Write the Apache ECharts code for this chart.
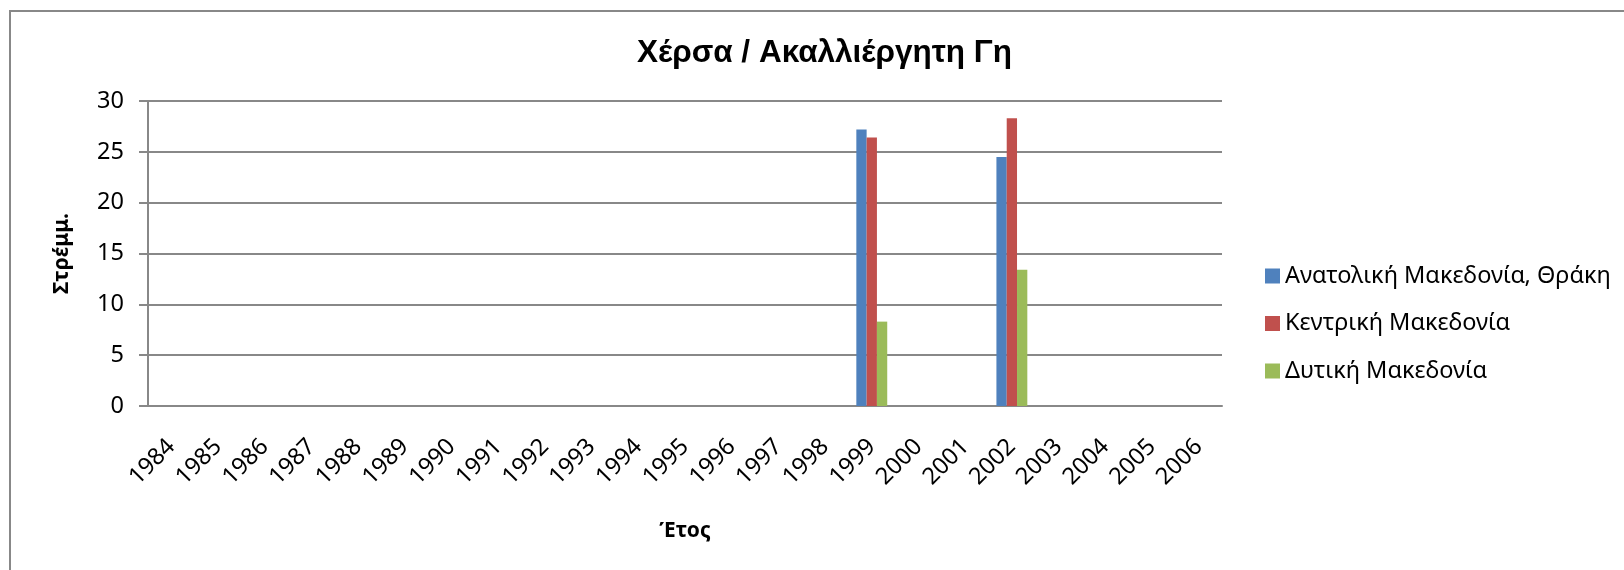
<!DOCTYPE html>
<html>
<head>
<meta charset="utf-8">
<title>Χέρσα / Ακαλλιέργητη Γη</title>
<script src="https://cdn.jsdelivr.net/npm/echarts@6/dist/echarts.min.js"></script>
<style>
	html, body { margin: 0; padding: 0; background: #fff; }
	#chart { width: 1624px; height: 570px; }
</style>
</head>
<body>
<div id="chart"></div>
<script>
	// data
	let years = ['1984', '1985', '1986', '1987', '1988', '1989', '1990', '1991', '1992', '1993', '1994', '1995',
		'1996', '1997', '1998', '1999', '2000', '2001', '2002', '2003', '2004', '2005', '2006']
	let seriesNames = ['Ανατολική Μακεδονία, Θράκη', 'Κεντρική Μακεδονία', 'Δυτική Μακεδονία']
	let anatoliki = [null, null, null, null, null, null, null, null, null, null, null, null,
		null, null, null, 27.2, null, null, 24.5, null, null, null, null]
	let kentriki = [null, null, null, null, null, null, null, null, null, null, null, null,
		null, null, null, 26.4, null, null, 28.3, null, null, null, null]
	let dytiki = [null, null, null, null, null, null, null, null, null, null, null, null,
		null, null, null, 8.3, null, null, 13.4, null, null, null, null]
	let colors = ['#4F81BD', '#C0504D', '#9BBB59']

	let font = "'Noto Sans', 'DejaVu Sans', sans-serif"
	let mychart = echarts.init(document.getElementById('chart'))
	let option = {
		animation: false,
		color: colors,
		title: {
			text: 'Χέρσα / Ακαλλιέργητη Γη',
			left: 632,
			top: 32,
			textStyle: {
				fontFamily: "'Liberation Sans', Arial, sans-serif",
				fontWeight: 'bold',
				fontSize: 31.5,
				color: '#000'
			}
		},
		graphic: [{
			type: 'rect',
			shape: { x: 10, y: 11, width: 1700, height: 700 },
			style: { fill: null, stroke: '#888', lineWidth: 2 },
			silent: true
		}],
		legend: {
			orient: 'vertical',
			left: 1260,
			top: 259,
			itemWidth: 15,
			itemHeight: 15,
			itemGap: 23.5,
			icon: 'rect',
			textStyle: {
				fontFamily: font,
				fontSize: 23.5,
				lineHeight: 24,
				color: '#000',
				padding: [0, 0, 0, 0]
			},
			data: seriesNames
		},
		grid: {
			left: 148,
			right: 402,
			top: 101,
			bottom: 164
		},
		xAxis: {
			type: 'category',
			data: years,
			name: 'Έτος',
			nameLocation: 'middle',
			nameGap: 115,
			nameTextStyle: {
				fontFamily: font,
				fontWeight: 'bold',
				fontSize: 21,
				color: '#000'
			},
			axisLine: { lineStyle: { color: '#888', width: 2 } },
			axisTick: { show: false },
			axisLabel: {
				rotate: 45,
				margin: 37,
				interval: 0,
				fontFamily: font,
				fontSize: 23.5,
				color: '#000'
			}
		},
		yAxis: {
			type: 'value',
			min: 0,
			max: 30,
			interval: 5,
			name: 'Στρέμμ.',
			nameLocation: 'middle',
			nameGap: 75,
			nameRotate: 90,
			nameTextStyle: {
				fontFamily: font,
				fontWeight: 'bold',
				fontSize: 21,
				color: '#000'
			},
			axisLine: { show: true, lineStyle: { color: '#888', width: 2 } },
			axisTick: { show: true, length: 9, lineStyle: { color: '#888', width: 2 } },
			splitLine: { lineStyle: { color: '#888', width: 2 } },
			axisLabel: {
				margin: 24,
				fontFamily: font,
				fontSize: 23.5,
				color: '#000'
			}
		},
		series: [{
				name: seriesNames[0],
				type: 'bar',
				barWidth: 10.3,
				barGap: '0%',
				data: anatoliki
			},
			{
				name: seriesNames[1],
				type: 'bar',
				barWidth: 10.3,
				barGap: '0%',
				data: kentriki
			},
			{
				name: seriesNames[2],
				type: 'bar',
				barWidth: 10.3,
				barGap: '0%',
				data: dytiki
			}
		]
	}
	mychart.setOption(option)
</script>
</body>
</html>
